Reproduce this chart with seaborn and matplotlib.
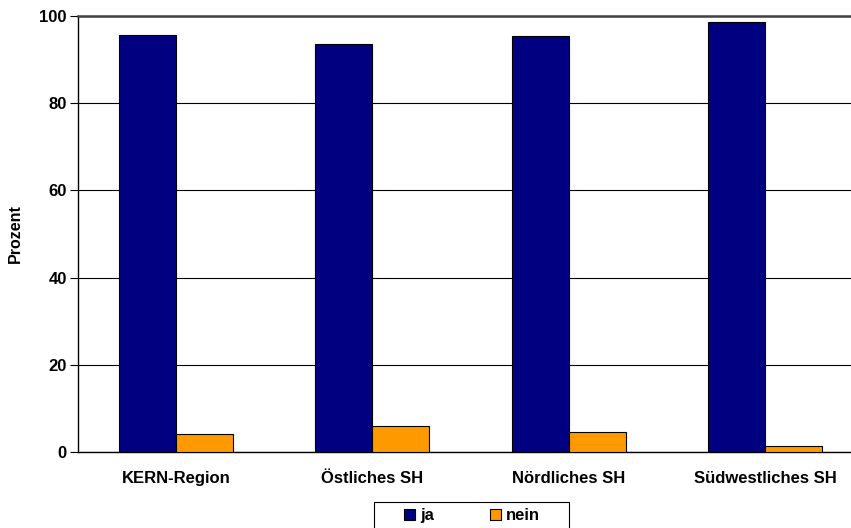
import matplotlib
matplotlib.use("Agg")
import matplotlib.pyplot as plt
import seaborn as sns
import pandas as pd
from matplotlib.ticker import FixedLocator
from matplotlib.patches import Patch, Rectangle

regions = ["KERN-Region", "Östliches SH", "Nördliches SH", "Südwestliches SH"]
ja_values = [95.6, 93.6, 95.4, 98.7]
nein_values = [4.2, 6.0, 4.5, 1.3]
y_ticks = [0, 20, 40, 60, 80, 100]

df = pd.DataFrame({
    "Region": regions * 2,
    "Antwort": ["ja"] * len(regions) + ["nein"] * len(regions),
    "Prozent": ja_values + nein_values,
})

sns.set_theme(style="white")
plt.rcParams["font.family"] = ["Liberation Sans", "DejaVu Sans"]
plt.rcParams["font.weight"] = "bold"
plt.rcParams["text.color"] = "black"
plt.rcParams["axes.labelcolor"] = "black"
plt.rcParams["xtick.color"] = "black"
plt.rcParams["ytick.color"] = "black"

fig = plt.figure(figsize=(8.51, 5.28), dpi=100)
W, H = 851, 528
left, right, top, bottom = 78, 863, 16, 452
ax = fig.add_axes([left / W, 1 - bottom / H, (right - left) / W, (bottom - top) / H])

sns.barplot(
    data=df, x="Region", y="Prozent", hue="Antwort", order=regions,
    palette={"ja": "#000080", "nein": "#FF9900"}, width=0.58, gap=0,
    edgecolor="black", linewidth=0.8, saturation=1, ax=ax, legend=False,
    zorder=3,
)

ax.set_xlim(-0.5, len(regions) - 0.5)
ax.set_ylim(0, 100)
ax.set_yticks(y_ticks)
ax.set_yticklabels([str(t) for t in y_ticks], fontsize=12, fontweight="bold", color="black")
ax.grid(axis="y", color="black", linewidth=0.8, zorder=0)
ax.set_axisbelow(True)

ax.set_xticks(range(len(regions)))
ax.set_xticklabels(regions, fontsize=12, fontweight="bold", color="black")
ax.tick_params(axis="x", which="major", length=0, pad=14)
ax.xaxis.set_minor_locator(FixedLocator([i + 0.5 for i in range(len(regions) - 1)]))
ax.tick_params(axis="x", which="minor", length=5, width=0.8, color="black", direction="out")
ax.tick_params(axis="y", which="major", length=6, width=0.8, color="black",
               direction="out", left=True, pad=2)

ax.set_xlabel("")
ax.set_ylabel("Prozent", fontsize=11.5, fontweight="bold", labelpad=12, color="black")

for side in ["left", "bottom"]:
    ax.spines[side].set_color("black")
    ax.spines[side].set_linewidth(1.0)
ax.spines["right"].set_visible(False)
ax.spines["top"].set_color("#404040")
ax.spines["top"].set_linewidth(1.8)

# legend box below the plot area
fig.add_artist(Rectangle((374 / W, 1 - 531 / H), (569 - 374) / W, (531 - 502) / H,
                         transform=fig.transFigure, facecolor="white",
                         edgecolor="black", linewidth=0.8))
handles = [Patch(facecolor="#000080", edgecolor="black", linewidth=0.8, label="ja"),
           Patch(facecolor="#FF9900", edgecolor="black", linewidth=0.8, label="nein")]
leg = fig.legend(
    handles=handles, loc="upper center", bbox_to_anchor=(472 / W, 1 - 503 / H),
    ncol=2, frameon=False,
    prop={"size": 12, "weight": "bold"}, handlelength=0.65, handleheight=0.65,
    handletextpad=0.3, columnspacing=3.4, borderpad=0.3, borderaxespad=0,
)
for t in leg.get_texts():
    t.set_color("black")

fig.savefig("out.png", dpi=100)
